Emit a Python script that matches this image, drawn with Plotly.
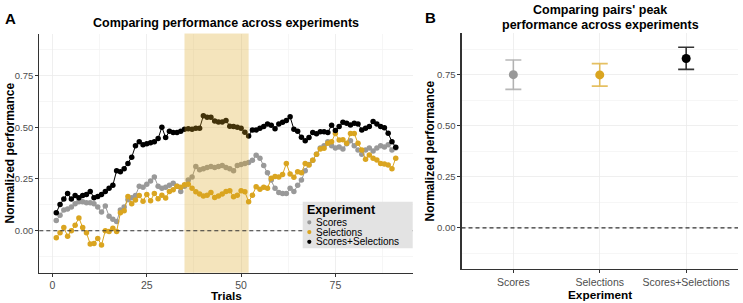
import plotly.graph_objects as go

# ---------------- data ----------------
scores = [
    0.050, 0.075, 0.100, 0.105, 0.115, 0.130, 0.140, 0.140, 0.135, 0.135,
    0.130, 0.115, 0.090, 0.120, 0.070, 0.055, 0.045, 0.100, 0.115, 0.150,
    0.160, 0.170, 0.215, 0.210, 0.225, 0.240, 0.260, 0.215, 0.205, 0.210,
    0.220, 0.230, 0.215, 0.190, 0.215, 0.245, 0.260, 0.310, 0.295, 0.300,
    0.305, 0.310, 0.305, 0.310, 0.315, 0.305, 0.300, 0.290, 0.315, 0.320,
    0.325, 0.330, 0.340, 0.365, 0.350, 0.315, 0.280, 0.245, 0.205, 0.185,
    0.180, 0.180, 0.205, 0.190, 0.220, 0.245, 0.290, 0.320, 0.340, 0.370,
    0.400, 0.410, 0.430, 0.410, 0.400, 0.405, 0.395, 0.420, 0.435, 0.410,
    0.390, 0.370, 0.390, 0.400, 0.385, 0.400, 0.410, 0.405, 0.415, 0.390,
    0.400,
]
selections = [
    -0.034, -0.010, 0.016, -0.026, 0.000, 0.027, 0.062, 0.016, -0.010, -0.064,
    -0.061, -0.037, -0.069, 0.000, -0.003, 0.012, -0.004, 0.087, 0.097, 0.166,
    0.130, 0.148, 0.170, 0.143, 0.175, 0.145, 0.180, 0.155, 0.172, 0.158,
    0.190, 0.198, 0.215, 0.210, 0.222, 0.225, 0.205, 0.188, 0.177, 0.168,
    0.172, 0.185, 0.161, 0.168, 0.178, 0.190, 0.193, 0.164, 0.172, 0.193,
    0.188, 0.140, 0.172, 0.213, 0.200, 0.210, 0.205, 0.253, 0.262, 0.260,
    0.272, 0.325, 0.274, 0.258, 0.285, 0.280, 0.325, 0.318, 0.340, 0.370,
    0.395, 0.398, 0.422, 0.430, 0.470, 0.438, 0.440, 0.422, 0.470, 0.470,
    0.422, 0.390, 0.345, 0.366, 0.350, 0.342, 0.325, 0.322, 0.317, 0.300,
    0.350,
]
scores_selections = [
    0.087, 0.127, 0.153, 0.180, 0.153, 0.170, 0.160, 0.170, 0.175, 0.190,
    0.160, 0.165, 0.175, 0.190, 0.205, 0.220, 0.290, 0.285, 0.300, 0.325,
    0.355, 0.410, 0.430, 0.415, 0.420, 0.425, 0.430, 0.445, 0.500, 0.450,
    0.480, 0.475, 0.475, 0.480, 0.490, 0.493, 0.490, 0.495, 0.495, 0.555,
    0.548, 0.548, 0.530, 0.525, 0.525, 0.533, 0.505, 0.503, 0.500, 0.495,
    0.476, 0.458, 0.487, 0.487, 0.495, 0.503, 0.516, 0.510, 0.492, 0.516,
    0.524, 0.532, 0.550, 0.490, 0.480, 0.452, 0.435, 0.450, 0.475, 0.468,
    0.478, 0.478, 0.475, 0.510, 0.484, 0.503, 0.524, 0.519, 0.511, 0.519,
    0.516, 0.487, 0.495, 0.503, 0.527, 0.516, 0.503, 0.498, 0.471, 0.430,
    0.403,
]
trials = list(range(1, len(scores) + 1))

experiments = ["Scores", "Selections", "Scores+Selections"]
peak_mean = [0.750, 0.749, 0.829]
peak_low = [0.678, 0.694, 0.776]
peak_high = [0.822, 0.804, 0.884]

highlight_start = 35
highlight_end = 52

colors = ["#999999", "#DAA520", "#000000"]
bar_colors = ["rgba(153,153,153,0.7)", "rgba(218,165,32,0.7)", "rgba(0,0,0,0.8)"]

W, H = 743, 303
def px(x):
    return x / W
def py(y):
    return 1 - y / H

FONT = "Liberation Sans, Arial, Helvetica, sans-serif"

fig = go.Figure()

series = [scores, selections, scores_selections]
for name, vals, col in zip(experiments, series, colors):
    fig.add_trace(go.Scatter(
        x=trials, y=vals, name=name, mode="lines+markers",
        line=dict(color=col, width=1),
        marker=dict(color=col, size=5.5),
        xaxis="x", yaxis="y", showlegend=False,
    ))

for i, name in enumerate(experiments):
    fig.add_trace(go.Scatter(
        x=[i + 1], y=[peak_mean[i]], mode="markers", name=name,
        marker=dict(color=colors[i], size=9),
        error_y=dict(type="data", symmetric=False,
                     array=[peak_high[i] - peak_mean[i]],
                     arrayminus=[peak_mean[i] - peak_low[i]],
                     color=bar_colors[i], thickness=1.6, width=8),
        xaxis="x2", yaxis="y2", showlegend=False,
    ))

axis_common = dict(
    showline=True, linecolor="#333333", linewidth=1.1,
    ticks="outside", ticklen=3, tickcolor="#333333", tickwidth=1,
    showgrid=True, gridcolor="#EBEBEB", gridwidth=0.8,
    zeroline=False, fixedrange=True,
)
ytick_font = dict(family=FONT, size=9.5, color="#4D4D4D")
xtick_font = dict(family=FONT, size=10.5, color="#4D4D4D")

fig.update_layout(
    width=W, height=H,
    margin=dict(l=0, r=0, t=0, b=0),
    paper_bgcolor="white", plot_bgcolor="white",
    showlegend=False,
    font=dict(family=FONT, color="black"),
    xaxis=dict(domain=[px(39.3), px(412.7)], range=[-3.5, 95.5],
               tick0=0, dtick=25, tickfont=xtick_font, anchor="y",
               minor=dict(tick0=0, dtick=12.5, showgrid=True,
                          gridcolor="#F4F4F4", gridwidth=0.8, ticks=""),
               **axis_common),
    yaxis=dict(domain=[py(272.7), py(33.5)], range=[-0.2025, 0.9525],
               tick0=0, dtick=0.25, tickformat=".2f", tickfont=ytick_font,
               anchor="x",
               minor=dict(tick0=0, dtick=0.125, showgrid=True,
                          gridcolor="#F4F4F4", gridwidth=0.8, ticks=""),
               **axis_common),
    xaxis2=dict(domain=[px(461.5), px(738)], range=[0.4, 3.6],
                tickmode="array", tickvals=[1, 2, 3], ticktext=experiments,
                tickfont=xtick_font, anchor="y2", **axis_common),
    yaxis2=dict(domain=[py(269.3), py(33.3)], range=[-0.2025, 0.9525],
                tick0=0, dtick=0.25, tickformat=".2f", tickfont=ytick_font,
                anchor="x2",
                minor=dict(tick0=0, dtick=0.125, showgrid=True,
                           gridcolor="#F4F4F4", gridwidth=0.8, ticks=""),
                **axis_common),
)

shapes = [
    dict(type="rect", xref="x", yref="y domain", x0=highlight_start,
         x1=highlight_end, y0=0, y1=1, fillcolor="#DAA520", opacity=0.3,
         line=dict(width=0), layer="above"),
    dict(type="line", xref="x domain", yref="y", x0=0, x1=1, y0=0, y1=0,
         line=dict(color="#333333", width=1.1, dash="4px,3px"), layer="above"),
    dict(type="line", xref="x2 domain", yref="y2", x0=0, x1=1, y0=0, y1=0,
         line=dict(color="#333333", width=1.1, dash="4px,3px"), layer="above"),
    # legend box
    dict(type="rect", xref="paper", yref="paper", x0=px(302.7), x1=px(412.7),
         y0=py(248.3), y1=py(201.7), fillcolor="#E3E3E3",
         line=dict(width=0), layer="above"),
]
legend_y = [222.3, 232.1, 241.8]
for col, ly in zip(colors, legend_y):
    r = 2.1
    shapes.append(dict(type="circle", xref="paper", yref="paper",
                       x0=px(309.3 - r), x1=px(309.3 + r),
                       y0=py(ly + r), y1=py(ly - r),
                       fillcolor=col, line=dict(width=0), layer="above"))
fig.update_layout(shapes=shapes)

ann = []
def text(x, y, s, size, bold=False, xanchor="center", angle=0, color="black"):
    ann.append(dict(x=px(x), y=py(y), xref="paper", yref="paper",
                    text=f"<b>{s}</b>" if bold else s, showarrow=False,
                    xanchor=xanchor, yanchor="middle", textangle=angle,
                    font=dict(family=FONT, size=size, color=color)))

text(10, 18, "A", 15, bold=True)
text(430, 17, "B", 15, bold=True)
text(226, 23, "Comparing performance across experiments", 12.5, bold=True)
text(600, 10, "Comparing pairs' peak", 12.5, bold=True)
text(600, 25, "performance across experiments", 12.5, bold=True)
text(9.5, 153, "Normalized performance", 12, bold=True, angle=-90)
text(429, 151.5, "Normalized performance", 12, bold=True, angle=-90)
text(226, 296.2, "Trials", 11.8, bold=True)
text(600, 294.5, "Experiment", 11.8, bold=True)
text(305, 209.5, "Experiment", 12.5, bold=True, xanchor="left")
for name, ly in zip(experiments, legend_y):
    text(313.5, ly, name, 10, xanchor="left")

fig.update_layout(annotations=ann)

fig.write_html(
    "out.html",
    config={"displayModeBar": False, "staticPlot": True},
    post_script="document.body.style.margin='0';document.body.style.padding='0';"
                "document.body.style.overflow='hidden';",
)
